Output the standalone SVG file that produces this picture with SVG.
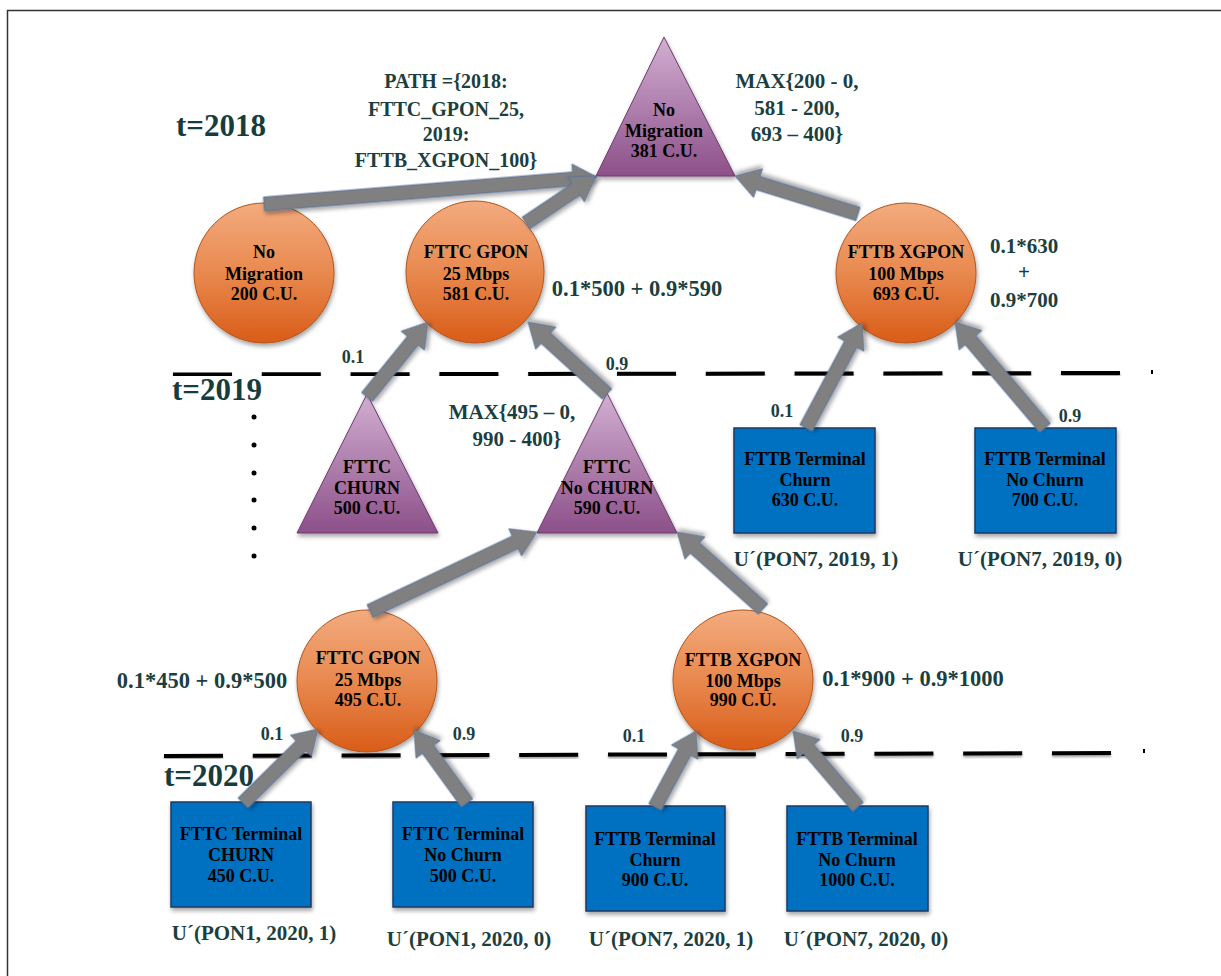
<svg xmlns="http://www.w3.org/2000/svg" width="1221" height="976" viewBox="0 0 1221 976">
  <defs>
    <linearGradient id="gOrange" x1="0" y1="0" x2="0" y2="1">
      <stop offset="0" stop-color="#f3ab7e"/>
      <stop offset="0.5" stop-color="#e8894f"/>
      <stop offset="1" stop-color="#d95c18"/>
    </linearGradient>
    <linearGradient id="gPurple" x1="0" y1="0" x2="0" y2="1">
      <stop offset="0" stop-color="#d2afd2"/>
      <stop offset="1" stop-color="#8c5089"/>
    </linearGradient>
    <filter id="shadow" x="-20%" y="-20%" width="140%" height="150%">
      <feDropShadow dx="1" dy="3" stdDeviation="2" flood-color="#000" flood-opacity="0.35"/>
    </filter>
    <filter id="lineShadow" x="-5%" y="-100%" width="110%" height="300%">
      <feDropShadow dx="0" dy="2" stdDeviation="1" flood-color="#000" flood-opacity="0.35"/>
    </filter>
  </defs>
  <style>
    .circle { fill: url(#gOrange); stroke: #b0561c; stroke-width: 1; filter: url(#shadow); }
    .tri { fill: url(#gPurple); stroke: #6e3b6e; stroke-width: 1; filter: url(#shadow); }
    .box { fill: #0070c0; stroke: #1d3a62; stroke-width: 1.5; filter: url(#shadow); }
    .arrow { fill: #808080; stroke: #51709f; stroke-width: 0.8; filter: url(#shadow); }
    .dash { stroke: #000; stroke-width: 4; fill: none; stroke-dasharray: 59 29.8; filter: url(#lineShadow); }
    .node { font-family: "Liberation Serif", "Times New Roman", serif; font-weight: bold; font-size: 18px; fill: #000; text-anchor: middle; }
    .lbl { font-family: "Liberation Serif", "Times New Roman", serif; font-weight: bold; font-size: 21px; fill: #1b3f40; text-anchor: middle; }
    .path { font-size: 20px; }
    .formula { font-size: 22.5px; }
    .prob { font-family: "Liberation Serif", "Times New Roman", serif; font-weight: bold; font-size: 18px; fill: #1b3f40; text-anchor: middle; }
    .time { font-family: "Liberation Serif", "Times New Roman", serif; font-weight: bold; font-size: 31px; fill: #173c3c; }
  </style>

  <rect width="1221" height="976" fill="#fff"/>
  <!-- page frame -->
  <path d="M7.5 976 V10.5 H1221" fill="none" stroke="#333" stroke-width="1.5"/>

  <!-- time stage separators -->
  <g id="separators">
    <line class="dash" x1="173" y1="374.5" x2="1121" y2="373"/>
    <rect x="1151" y="370" width="2" height="4" fill="#000"/>
    <line class="dash" x1="164" y1="756" x2="1113" y2="753"/>
    <rect x="1143" y="749" width="2" height="4" fill="#000"/>
    <circle cx="254" cy="417" r="2.5" fill="#000"/>
    <circle cx="254" cy="445" r="2.5" fill="#000"/>
    <circle cx="254" cy="473" r="2.5" fill="#000"/>
    <circle cx="254" cy="500" r="2.5" fill="#000"/>
    <circle cx="254" cy="528" r="2.5" fill="#000"/>
    <circle cx="254" cy="556" r="2.5" fill="#000"/>
  </g>

  <!-- stage labels and formulas -->
  <g id="labels">
    <text class="time" x="176" y="136">t=2018</text>
    <text class="time" x="172" y="400">t=2019</text>
    <text class="time" x="164" y="786">t=2020</text>

    <text class="lbl path" x="446" y="88">PATH ={2018:</text>
    <text class="lbl path" x="446" y="116">FTTC_GPON_25,</text>
    <text class="lbl path" x="446" y="141">2019:</text>
    <text class="lbl path" x="446" y="167">FTTB_XGPON_100}</text>

    <text class="lbl" x="797" y="88">MAX{200 - 0,</text>
    <text class="lbl" x="797" y="115">581 - 200,</text>
    <text class="lbl" x="797" y="141">693 – 400}</text>

    <text class="lbl formula" x="637" y="296">0.1*500 + 0.9*590</text>
    <text class="lbl" x="1024" y="253">0.1*630</text>
    <text class="lbl" x="1024" y="279">+</text>
    <text class="lbl" x="1024" y="307">0.9*700</text>

    <text class="lbl" x="512" y="419">MAX{495 – 0,</text>
    <text class="lbl" x="517" y="446">990 - 400}</text>

    <text class="lbl" x="816" y="566">U´(PON7, 2019, 1)</text>
    <text class="lbl" x="1040" y="566">U´(PON7, 2019, 0)</text>

    <text class="lbl formula" x="202" y="688">0.1*450 + 0.9*500</text>
    <text class="lbl formula" x="913" y="686">0.1*900 + 0.9*1000</text>

    <text class="lbl" x="254" y="940">U´(PON1, 2020, 1)</text>
    <text class="lbl" x="469" y="946">U´(PON1, 2020, 0)</text>
    <text class="lbl" x="671" y="946">U´(PON7, 2020, 1)</text>
    <text class="lbl" x="866" y="946">U´(PON7, 2020, 0)</text>

    <text class="prob" x="353" y="363">0.1</text>
    <text class="prob" x="617" y="370">0.9</text>
    <text class="prob" x="782" y="417">0.1</text>
    <text class="prob" x="1070" y="422">0.9</text>
    <text class="prob" x="272" y="740">0.1</text>
    <text class="prob" x="464" y="740">0.9</text>
    <text class="prob" x="634" y="742">0.1</text>
    <text class="prob" x="852" y="742">0.9</text>
  </g>

  <!-- decision / chance nodes -->
  <g id="root-no-migration">
    <polygon class="tri" points="664,37 596,176 735,176"/>
    <text class="node" x="664" y="116">No</text>
    <text class="node" x="664" y="137">Migration</text>
    <text class="node" x="664" y="157">381 C.U.</text>
  </g>

  <g id="no-migration-2018">
    <ellipse class="circle" cx="264" cy="273" rx="70" ry="70"/>
    <text class="node" x="264" y="258">No</text>
    <text class="node" x="264" y="280">Migration</text>
    <text class="node" x="264" y="300">200 C.U.</text>
  </g>

  <g id="fttc-gpon-2018">
    <ellipse class="circle" cx="475" cy="272" rx="69" ry="71"/>
    <text class="node" x="476" y="258">FTTC GPON</text>
    <text class="node" x="476" y="280">25 Mbps</text>
    <text class="node" x="476" y="300">581 C.U.</text>
  </g>

  <g id="fttb-xgpon-2018">
    <ellipse class="circle" cx="906" cy="273" rx="70" ry="70"/>
    <text class="node" x="906" y="258">FTTB XGPON</text>
    <text class="node" x="906" y="280">100 Mbps</text>
    <text class="node" x="906" y="300">693 C.U.</text>
  </g>

  <g id="fttc-churn-2019">
    <polygon class="tri" points="367,394 297,533 438,533"/>
    <text class="node" x="367" y="473">FTTC</text>
    <text class="node" x="367" y="494">CHURN</text>
    <text class="node" x="367" y="514">500 C.U.</text>
  </g>

  <g id="fttc-no-churn-2019">
    <polygon class="tri" points="607,393 537,533 677,533"/>
    <text class="node" x="607" y="473">FTTC</text>
    <text class="node" x="607" y="494">No CHURN</text>
    <text class="node" x="607" y="514">590 C.U.</text>
  </g>

  <g id="fttb-terminal-churn-2019">
    <rect class="box" x="734" y="428" width="141" height="105"/>
    <text class="node" x="805" y="465">FTTB Terminal</text>
    <text class="node" x="805" y="486">Churn</text>
    <text class="node" x="805" y="506">630 C.U.</text>
  </g>

  <g id="fttb-terminal-no-churn-2019">
    <rect class="box" x="975" y="428" width="141" height="105"/>
    <text class="node" x="1045" y="465">FTTB Terminal</text>
    <text class="node" x="1045" y="486">No Churn</text>
    <text class="node" x="1045" y="506">700 C.U.</text>
  </g>

  <g id="fttc-gpon-2019">
    <ellipse class="circle" cx="367" cy="681" rx="70" ry="71"/>
    <text class="node" x="368" y="664">FTTC GPON</text>
    <text class="node" x="368" y="686">25 Mbps</text>
    <text class="node" x="368" y="706">495 C.U.</text>
  </g>

  <g id="fttb-xgpon-2019">
    <ellipse class="circle" cx="743" cy="680" rx="70" ry="70"/>
    <text class="node" x="743" y="666">FTTB XGPON</text>
    <text class="node" x="743" y="687">100 Mbps</text>
    <text class="node" x="743" y="706">990 C.U.</text>
  </g>

  <g id="fttc-terminal-churn-2020">
    <rect class="box" x="171" y="802" width="140" height="105"/>
    <text class="node" x="241" y="840">FTTC Terminal</text>
    <text class="node" x="241" y="861">CHURN</text>
    <text class="node" x="241" y="882">450 C.U.</text>
  </g>

  <g id="fttc-terminal-no-churn-2020">
    <rect class="box" x="393" y="802" width="140" height="105"/>
    <text class="node" x="463" y="840">FTTC Terminal</text>
    <text class="node" x="463" y="861">No Churn</text>
    <text class="node" x="463" y="882">500 C.U.</text>
  </g>

  <g id="fttb-terminal-churn-2020">
    <rect class="box" x="586" y="806" width="139" height="105"/>
    <text class="node" x="655" y="845">FTTB Terminal</text>
    <text class="node" x="655" y="866">Churn</text>
    <text class="node" x="655" y="886">900 C.U.</text>
  </g>

  <g id="fttb-terminal-no-churn-2020">
    <rect class="box" x="787" y="806" width="141" height="105"/>
    <text class="node" x="857" y="845">FTTB Terminal</text>
    <text class="node" x="857" y="866">No Churn</text>
    <text class="node" x="857" y="886">1000 C.U.</text>
  </g>

  <!-- block arrows: tail at child, head at parent -->
  <g id="connectors">
    <path class="arrow" transform="translate(264 204) rotate(-4.64)" d="M0 -7 H310.1 V-15 L334.1 0 L310.1 15 V7 H0 Z"/>
    <path class="arrow" transform="translate(526 223) rotate(-33.88)" d="M0 -7 H60.3 V-15 L84.3 0 L60.3 15 V7 H0 Z"/>
    <path class="arrow" transform="translate(858 214) rotate(-162.83)" d="M0 -7 H104.7 V-15 L128.7 0 L104.7 15 V7 H0 Z"/>
    <path class="arrow" transform="translate(367 397) rotate(-50.88)" d="M0 -7 H72.7 V-15 L96.7 0 L72.7 15 V7 H0 Z"/>
    <path class="arrow" transform="translate(607 394) rotate(-137.65)" d="M0 -7 H82.9 V-15 L106.9 0 L82.9 15 V7 H0 Z"/>
    <path class="arrow" transform="translate(806 428) rotate(-61.93)" d="M0 -7 H95 V-15 L119 0 L95 15 V7 H0 Z"/>
    <path class="arrow" transform="translate(1045 428) rotate(-130.33)" d="M0 -7 H115.1 V-15 L139.1 0 L115.1 15 V7 H0 Z"/>
    <path class="arrow" transform="translate(370 611) rotate(-25.31)" d="M0 -7 H160.7 V-15 L184.7 0 L160.7 15 V7 H0 Z"/>
    <path class="arrow" transform="translate(763 609) rotate(-138.16)" d="M0 -7 H91.4 V-15 L115.4 0 L91.4 15 V7 H0 Z"/>
    <path class="arrow" transform="translate(243 803) rotate(-44.62)" d="M0 -7 H81.4 V-15 L105.4 0 L81.4 15 V7 H0 Z"/>
    <path class="arrow" transform="translate(467 803) rotate(-125.98)" d="M0 -7 H66.2 V-15 L90.2 0 L66.2 15 V7 H0 Z"/>
    <path class="arrow" transform="translate(655 807) rotate(-61.66)" d="M0 -7 H62.4 V-15 L86.4 0 L62.4 15 V7 H0 Z"/>
    <path class="arrow" transform="translate(858 807) rotate(-130.54)" d="M0 -7 H76 V-15 L100 0 L76 15 V7 H0 Z"/>
  </g>
</svg>
